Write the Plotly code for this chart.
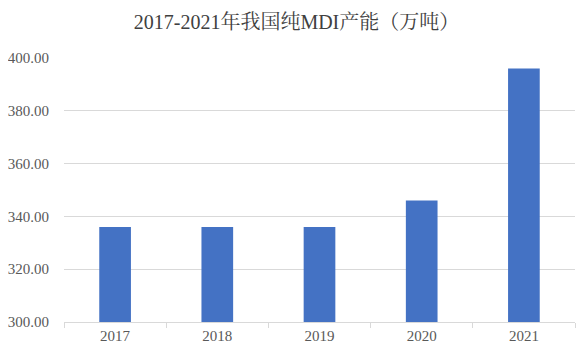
import plotly.graph_objects as go

years = ["2017", "2018", "2019", "2020", "2021"]
capacity = [336, 336, 336, 346, 396]
title_text = "2017-2021年我国纯MDI产能（万吨）"
y_ticks = [300, 320, 340, 360, 380, 400]

fig = go.Figure(go.Bar(x=years, y=capacity, marker=dict(color="#4472C4", line=dict(width=0)), width=0.31))

# page body has an 8px default margin, so the figure is made 8px smaller
fig.update_layout(
    width=577, height=348,
    margin=dict(l=56, r=10, t=50, b=34),
    paper_bgcolor="white", plot_bgcolor="white",
    title=dict(text=title_text, x=0.5, xanchor="center", y=1 - 14 / 348, yanchor="middle",
               font=dict(family="Liberation Serif, Noto Serif CJK SC, Noto Sans CJK SC", size=20, color="#404040")),
    showlegend=False,
    font=dict(family="Liberation Serif, Times New Roman, serif", size=15, color="#595959"),
)
fig.update_yaxes(range=[300, 400], tickvals=y_ticks, tickformat=".2f", showgrid=True, gridcolor="#D9D9D9",
                 gridwidth=1, zeroline=False, showline=False, ticks="", ticklabelstandoff=14, automargin=False)
fig.update_xaxes(showline=True, linecolor="#D9D9D9", linewidth=1, ticks="outside", tickson="boundaries",
                 ticklen=5, tickcolor="#D9D9D9", showgrid=False, automargin=False)
fig.write_html("out.html")
